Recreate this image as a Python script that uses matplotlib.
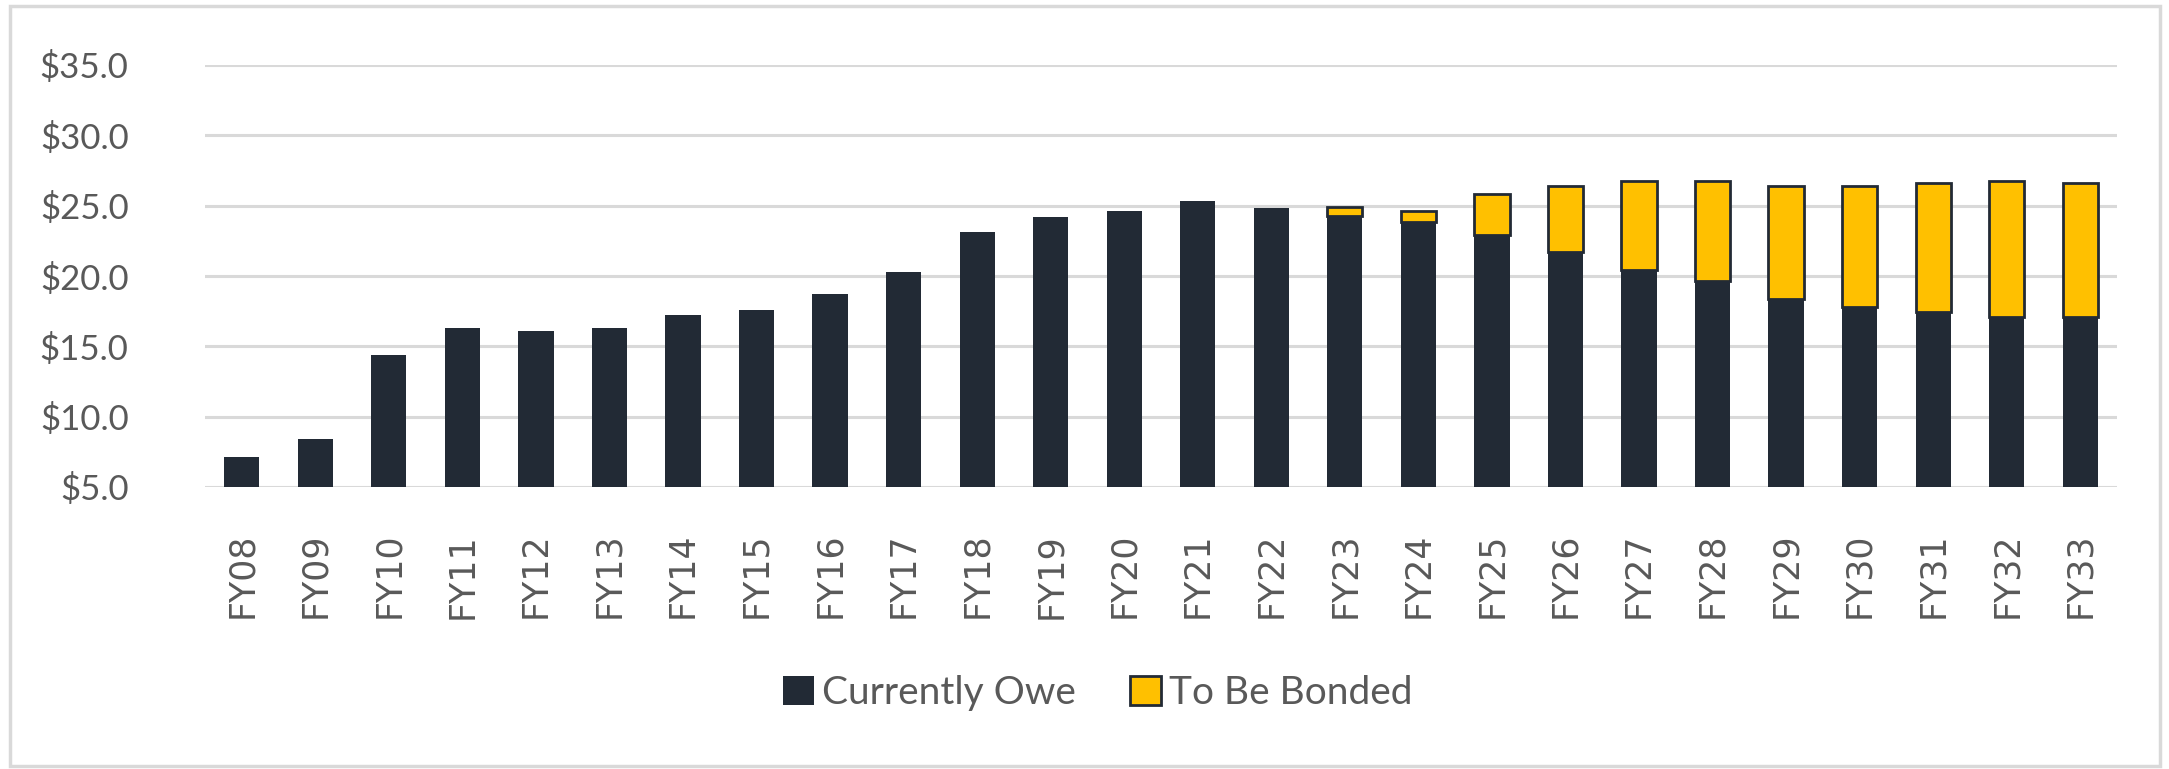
import matplotlib.pyplot as plt
from matplotlib.patches import Rectangle
import numpy as np

# 年度ラベルと値
years = ['FY08', 'FY09', 'FY10', 'FY11', 'FY12', 'FY13', 'FY14', 'FY15', 'FY16',
         'FY17', 'FY18', 'FY19', 'FY20', 'FY21', 'FY22', 'FY23', 'FY24', 'FY25',
         'FY26', 'FY27', 'FY28', 'FY29', 'FY30', 'FY31', 'FY32', 'FY33']
currently_owe = [7.1, 8.4, 14.4, 16.3, 16.1, 16.3, 17.2, 17.6, 18.7, 20.3, 23.1,
                 24.2, 24.6, 25.3, 24.8, 24.25, 23.85, 22.95, 21.7, 20.4, 19.65,
                 18.35, 17.8, 17.45, 17.05, 17.05]
to_be_bonded = [0, 0, 0, 0, 0, 0, 0, 0, 0, 0, 0, 0, 0, 0, 0, 0.65, 0.75, 2.9,
                4.7, 6.35, 7.1, 8.05, 8.6, 9.15, 9.7, 9.55]
yticks = [5, 10, 15, 20, 25, 30, 35]

dark = '#222A35'
gold = '#FFC000'
grey_txt = '#595959'

fig = plt.figure(figsize=(21.69, 7.69), dpi=100)
ax = fig.add_axes([205 / 2169, 1 - 487 / 769, (2117 - 205) / 2169, (487 - 65) / 769])

x = np.arange(len(years))
ax.bar(x, currently_owe, width=0.48, color=dark, label='Currently Owe', zorder=3)
bonded = np.array(to_be_bonded)
mask = bonded > 0
ax.bar(x[mask], bonded[mask], width=0.48, bottom=np.array(currently_owe)[mask],
       color=gold, edgecolor=dark, linewidth=2, label='To Be Bonded', zorder=3)

ax.set_xlim(-0.5, len(years) - 0.5)
ax.set_ylim(5, 35)
ax.set_yticks(yticks)
ax.set_yticklabels([f'${v:.1f}' for v in yticks], family='Lato', fontsize=25,
                   color=grey_txt)
ax.set_xticks(x)
ax.set_xticklabels(years, rotation=90, family='DejaVu Sans', fontsize=25,
                   color=grey_txt)
ax.tick_params(axis='both', length=0)
ax.tick_params(axis='x', pad=33)
ax.tick_params(axis='y', pad=55)

ax.grid(axis='y', color='#D9D9D9', linewidth=2.2, zorder=0)
for s in ax.spines.values():
    s.set_visible(False)

leg = fig.legend(loc='center', bbox_to_anchor=(0.506, 1 - 693 / 769), ncol=2,
                 frameon=False, prop={'family': 'Lato', 'size': 28},
                 handlelength=0.8, handleheight=0.8, handletextpad=0.2,
                 columnspacing=1.4)
for t in leg.get_texts():
    t.set_color(grey_txt)

# 外枠
fig.patches.append(Rectangle((10 / 2169, 3 / 769), 2150 / 2169, 760 / 769,
                             transform=fig.transFigure, fill=False,
                             edgecolor='#D9D9D9', linewidth=2.5))

fig.savefig('out.png', dpi=100)
